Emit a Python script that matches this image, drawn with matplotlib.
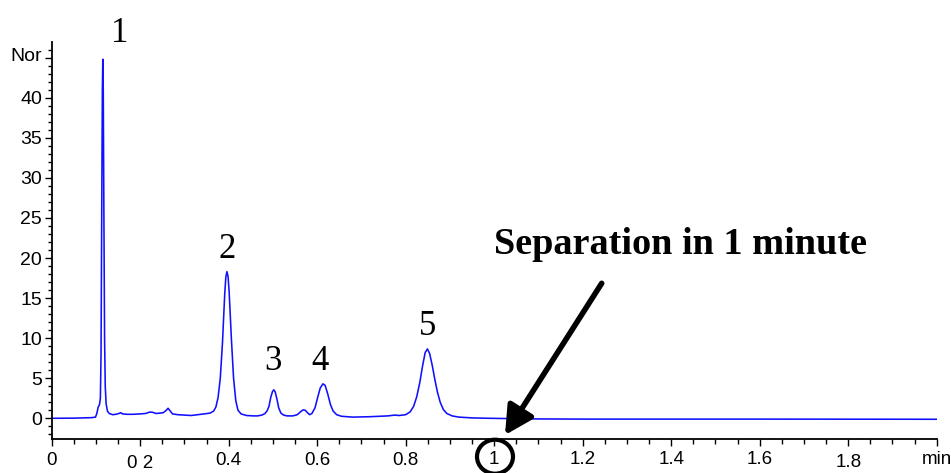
import matplotlib
matplotlib.use("Agg")
import matplotlib.pyplot as plt
from matplotlib.patches import Ellipse
from matplotlib.transforms import IdentityTransform, Affine2D
from matplotlib.ticker import MultipleLocator, FixedLocator

# Chromatogram trace: retention time (min) and detector signal (norm.)
time_min = [
    0.000, 0.050, 0.090, 0.099, 0.102, 0.105, 0.108, 0.110, 0.1115, 0.113,
    0.1145, 0.1155, 0.1165, 0.118, 0.1195, 0.121, 0.123, 0.126, 0.130, 0.138,
    0.145, 0.152, 0.156, 0.160, 0.170, 0.185, 0.200, 0.212, 0.222, 0.228,
    0.236, 0.245, 0.252, 0.258, 0.263, 0.268, 0.273, 0.285, 0.300, 0.315,
    0.330, 0.345, 0.358, 0.366, 0.371, 0.376, 0.381, 0.386, 0.391, 0.3935,
    0.396, 0.3985, 0.401, 0.406, 0.411, 0.416, 0.421, 0.428, 0.440, 0.455,
    0.465, 0.475, 0.482, 0.487, 0.491, 0.495, 0.499, 0.502, 0.505, 0.509,
    0.513, 0.518, 0.524, 0.532, 0.545, 0.555, 0.562, 0.568, 0.573, 0.578,
    0.583, 0.588, 0.595, 0.601, 0.607, 0.613, 0.618, 0.624, 0.630, 0.636,
    0.644, 0.655, 0.680, 0.720, 0.760, 0.775, 0.785, 0.800, 0.810, 0.818,
    0.825, 0.832, 0.838, 0.844, 0.849, 0.854, 0.860, 0.866, 0.872, 0.878,
    0.885, 0.893, 0.905, 0.920, 0.950, 0.990, 1.050, 1.100, 1.200, 1.400,
    1.600, 1.800, 2.000,
]
signal = [
    0.00, 0.02, 0.08, 0.15, 0.60, 1.40, 1.70, 2.50, 8.00, 25.0,
    41.0, 44.8, 41.0, 25.0, 10.0, 4.00, 1.80, 0.90, 0.60, 0.45,
    0.50, 0.60, 0.70, 0.55, 0.50, 0.50, 0.55, 0.60, 0.78, 0.75,
    0.60, 0.65, 0.70, 0.95, 1.25, 0.90, 0.55, 0.45, 0.40, 0.35,
    0.45, 0.55, 0.65, 0.90, 1.40, 2.60, 5.00, 9.50, 15.5, 17.6,
    18.3, 17.7, 15.8, 10.0, 5.00, 2.20, 1.00, 0.55, 0.35, 0.30,
    0.30, 0.40, 0.60, 0.95, 1.50, 2.60, 3.35, 3.55, 3.30, 2.40,
    1.30, 0.65, 0.40, 0.30, 0.30, 0.45, 0.80, 1.05, 1.00, 0.70,
    0.45, 0.60, 1.30, 2.60, 3.80, 4.30, 4.10, 3.00, 1.70, 0.90,
    0.45, 0.25, 0.15, 0.20, 0.30, 0.40, 0.35, 0.45, 0.80, 1.50,
    2.70, 4.50, 6.50, 8.20, 8.65, 8.10, 6.60, 4.80, 3.20, 2.00,
    1.10, 0.60, 0.30, 0.15, 0.05, 0.00, -0.05, -0.08, -0.10, -0.10,
    -0.10, -0.11, -0.12,
]

# Peak numbers with their retention times and apex heights
peak_labels = ["1", "2", "3", "4", "5"]
peak_times = [0.1155, 0.396, 0.502, 0.613, 0.849]
peak_heights = [44.8, 18.3, 3.55, 4.30, 8.65]

x_ticks = [0.0, 0.2, 0.4, 0.6, 0.8, 1.0, 1.2, 1.4, 1.6, 1.8, 2.0]
x_ticklabels = ["0", "0 2", "0.4", "0.6", "0.8", "1", "1.2", "1.4", "1.6", "1.8", "min"]
y_ticks = [0, 5, 10, 15, 20, 25, 30, 35, 40, 45]
y_ticklabels = ["0", "5", "10", "15", "20", "25", "30", "35", "40", "Nor"]

W, H = 951, 473
fig = plt.figure(figsize=(W / 100, H / 100), dpi=100)
ax = fig.add_axes([51.7 / W, 1 - 439.3 / H, (936.7 - 51.7) / W, (439.3 - 42) / H])

ax.plot(time_min, signal, color="#1010ff", lw=1.15, solid_joinstyle="round")

ax.set_xlim(0, 2.0)
ax.set_ylim(-2.62, 46.95)

for side in ("top", "right"):
    ax.spines[side].set_visible(False)
for side in ("left", "bottom"):
    ax.spines[side].set_linewidth(1.3)

sans = "Liberation Sans"
ax.xaxis.set_major_locator(FixedLocator(x_ticks))
ax.xaxis.set_minor_locator(MultipleLocator(0.05))
ax.yaxis.set_major_locator(FixedLocator(y_ticks))
ax.yaxis.set_minor_locator(MultipleLocator(1))
ax.set_xticklabels(x_ticklabels, fontfamily=sans, fontsize=13.5)
ax.set_yticklabels(y_ticklabels, fontfamily=sans, fontsize=14)
ax.tick_params(axis="x", which="major", direction="out", length=5, width=1, pad=4.5)
ax.tick_params(axis="x", which="minor", direction="out", length=3.5, width=1)
ax.tick_params(axis="y", which="major", direction="out", length=5, width=1, pad=2)
ax.tick_params(axis="y", which="minor", direction="out", length=3, width=1)

# slight vertical jitter of a few time labels
for lbl, dy in zip(ax.get_xticklabels(), [0, -3, 0, 0, 0, 1, 1, 1, 1, -2, 1]):
    lbl.set_transform(lbl.get_transform() + Affine2D().translate(0, dy))
ylbls = ax.get_yticklabels()
ylbls[-1].set_transform(ylbls[-1].get_transform() + Affine2D().translate(0, 3))

# Peak numbers, placed above each apex (offsets in points)
serif = "Liberation Serif"
label_offsets = [(12.2, 12.5), (0, 9.9), (-0.4, 14.4), (-1.9, 10.1), (0, 10.1)]
for lab, t, h, (dx, dy) in zip(peak_labels, peak_times, peak_heights, label_offsets):
    ax.annotate(lab, xy=(t, h), xytext=(dx, dy), textcoords="offset points",
                ha="center", va="baseline", fontfamily=serif, fontsize=25,
                annotation_clip=False)

# Highlight: separation completed within one minute
fig.text(680 / W, 1 - 254 / H, "Separation in 1 minute", ha="center", va="baseline",
         fontfamily=serif, fontweight="bold", fontsize=27.5)
ax.annotate("", xy=(505, H - 435), xycoords="figure pixels",
            xytext=(601.7, H - 283.3), textcoords="figure pixels",
            arrowprops=dict(arrowstyle="-|>,head_length=0.85,head_width=0.45",
                            lw=4.0, color="black", mutation_scale=20,
                            shrinkA=0, shrinkB=0))
fig.patches.append(Ellipse((495, H - 456.7), 36, 34, fill=False, ec="black",
                           lw=3.0, transform=IdentityTransform(), figure=fig))

fig.savefig("out.png", dpi=100)
